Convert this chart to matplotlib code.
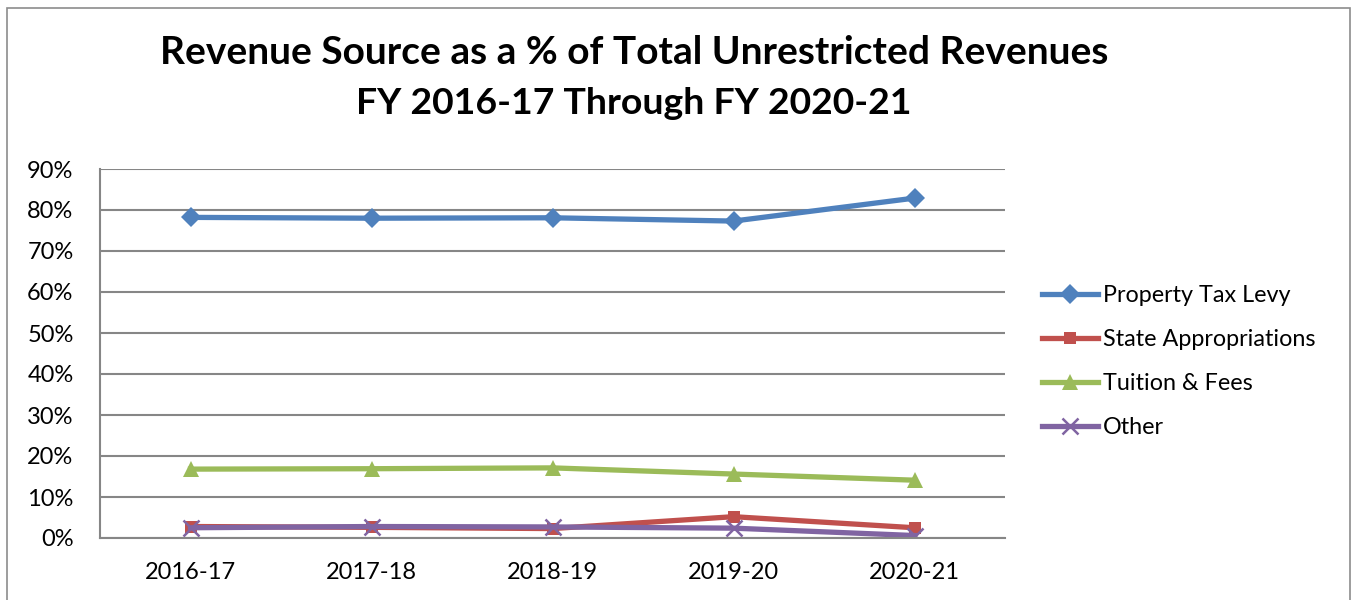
import matplotlib
matplotlib.use("Agg")
import matplotlib.pyplot as plt
from matplotlib.patches import Rectangle
from matplotlib.ticker import FuncFormatter

plt.rcParams['font.family'] = ['Lato', 'DejaVu Sans']

years = ["2016-17", "2017-18", "2018-19", "2019-20", "2020-21"]
property_tax = [78.2, 78.0, 78.1, 77.3, 82.9]
state_approp = [2.8, 2.6, 2.3, 5.2, 2.5]
tuition_fees = [16.8, 16.9, 17.1, 15.6, 14.1]
other = [2.5, 2.8, 2.7, 2.4, 0.6]
y_ticks = [0, 10, 20, 30, 40, 50, 60, 70, 80, 90]

W, H = 1353, 600
fig = plt.figure(figsize=(W / 100, H / 100), dpi=100)
fig.patch.set_facecolor("white")

# outer chart border
fig.patches.append(Rectangle((7 / W, -0.05), (1350 - 7) / W, 1.05 - 8 / H,
                             transform=fig.transFigure, fill=False,
                             edgecolor="#8c8c8c", linewidth=1.2))

ax = fig.add_axes([100 / W, 1 - 538 / H, (1005 - 100) / W, (538 - 169) / H])
x = list(range(len(years)))

series = [
    ("Property Tax Levy", property_tax, "#4F81BD", "D", 10.5),
    ("State Appropriations", state_approp, "#C0504D", "s", 9),
    ("Tuition & Fees", tuition_fees, "#9BBB59", "^", 11),
    ("Other", other, "#8064A2", "x", 11),
]
for name, vals, col, mk, ms in series:
    kw = dict(markeredgewidth=1.8) if mk == "x" else dict(markeredgewidth=0)
    ax.plot(x, vals, color=col, linewidth=3.8, marker=mk, markersize=ms,
            markerfacecolor=col, markeredgecolor=col, label=name, **kw)

ax.set_xlim(-0.5, len(years) - 0.5)
ax.set_ylim(0, 90)
ax.set_yticks(y_ticks)
ax.yaxis.set_major_formatter(FuncFormatter(lambda v, p: f"{int(v)}%"))
ax.set_xticks(x)
ax.set_xticklabels(years)
ax.grid(axis="y", color="#868686", linewidth=1.5)
ax.set_axisbelow(True)
for s in ["top", "right"]:
    ax.spines[s].set_visible(False)
for s in ["left", "bottom"]:
    ax.spines[s].set_color("#868686")
    ax.spines[s].set_linewidth(1.5)
ax.tick_params(axis="both", length=0, labelsize=17, colors="black")
ax.tick_params(axis="x", pad=17)
ax.tick_params(axis="y", pad=19)

leg = fig.legend(loc="upper left", bbox_to_anchor=(1033 / W, 1 - 276 / H),
                 frameon=False, fontsize=16.8, handlelength=2.4,
                 handletextpad=0.2, labelspacing=0.98, borderaxespad=0)

fig.text(634 / W, 1 - 52 / H, "Revenue Source as a % of Total Unrestricted Revenues",
         ha="center", va="center", fontsize=28, fontweight="bold")
fig.text(634 / W, 1 - 103 / H, "FY 2016-17 Through FY 2020-21",
         ha="center", va="center", fontsize=26.9, fontweight="bold")

fig.savefig("out.png", dpi=100, facecolor="white")
